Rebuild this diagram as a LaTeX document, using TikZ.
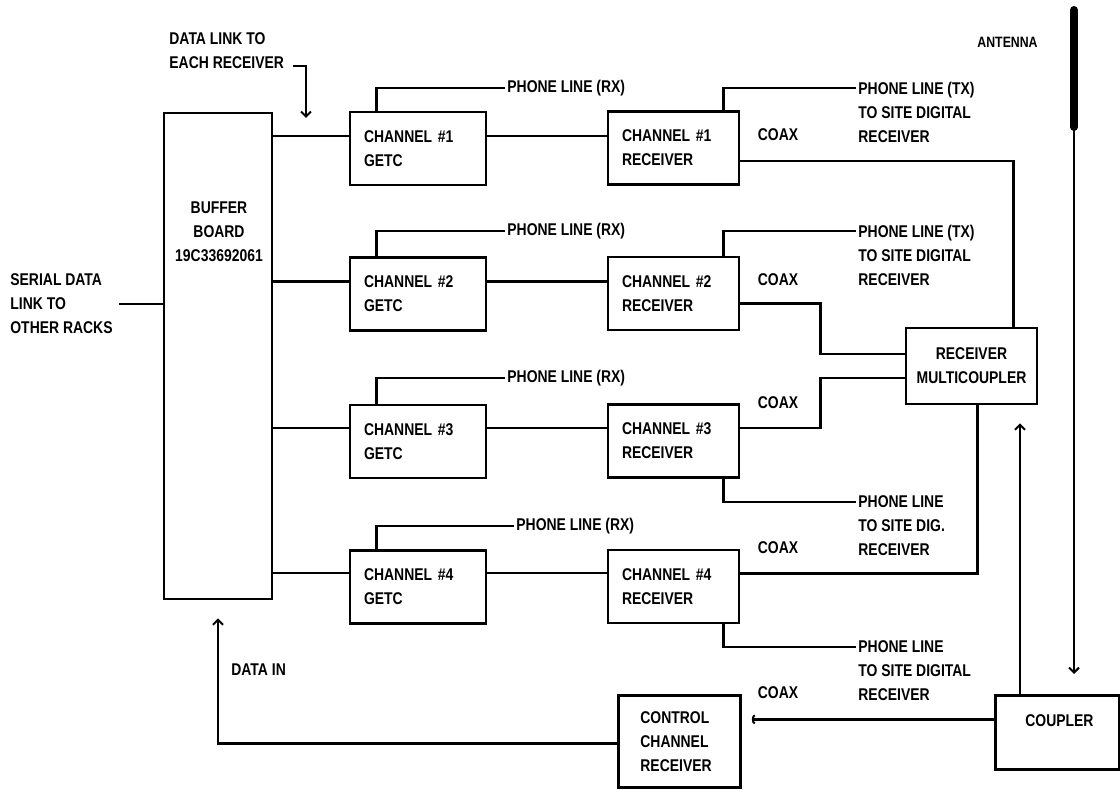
\documentclass[tikz,border=0pt]{standalone}
\usepackage{fontspec}
\newfontfamily\dotfont{Liberation Sans}[FakeStretch=0.82]
\usetikzlibrary{positioning, arrows.meta}

\begin{document}
\begin{tikzpicture}[
  x=0.5pt, y=-0.5pt,
  font=\dotfont\bfseries\fontsize{8.5}{12}\selectfont,
  wire/.style={line width=1.3pt},
  unit/.style={draw, line width=1.4pt, align=left, text width=#1,
    inner xsep=7pt, inner ysep=0pt, minimum height=36.5pt},
  unit/.default=54pt,
  hub/.style={draw, line width=1.4pt, align=center, minimum width=65.5pt,
    minimum height=38pt},
  tag/.style={align=left, inner sep=1pt},
  tip/.style={-{Straight Barb[length=2.5pt, width=5pt, line width=1pt]}}
]
\useasboundingbox (0,0) rectangle (1120,790);

% -------------------------
% BOXES
% -------------------------

\node[draw, line width=1.4pt, minimum width=54pt, minimum height=243pt] (buffer) at (218,356) {};
\node[align=center, inner sep=0pt] (buftext) at (219,232) {BUFFER\\BOARD\\19C33692061};

\node[unit] (g1) at (418,148.5) {CHANNEL \#1\\GETC};
\node[unit] (g2) at (418,294) {CHANNEL \#2\\GETC};
\node[unit] (g3) at (418,441.5) {CHANNEL \#3\\GETC};
\node[unit] (g4) at (418,587) {CHANNEL \#4\\GETC};

\node[unit=51.5pt] (r1) at (673.5,148) {CHANNEL \#1\\RECEIVER};
\node[unit=51.5pt] (r2) at (673.5,293.5) {CHANNEL \#2\\RECEIVER};
\node[unit=51.5pt] (r3) at (673.5,441) {CHANNEL \#3\\RECEIVER};
\node[unit=51.5pt] (r4) at (673.5,586.5) {CHANNEL \#4\\RECEIVER};

\node[hub] (mc) at (971.5,366) {RECEIVER\\MULTICOUPLER};

\node[unit=39pt, inner xsep=11pt, minimum height=46pt, anchor=north west] (cc) at (617,694)
  {CONTROL\\CHANNEL\\RECEIVER};
\node[unit=32pt, inner xsep=15pt, minimum height=37pt, anchor=north west] (cp) at (994,694)
  {COUPLER\\ \mbox{}};

% -------------------------
% LABELS
% -------------------------

\node[tag, anchor=west] (dltext) at (167,51) {DATA LINK TO\\EACH RECEIVER};
\node[tag, anchor=west] (serial) at (8,304) {SERIAL DATA\\LINK TO\\OTHER RACKS};
\node[tag, anchor=west] (datain) at (229,670) {DATA IN};
\node[tag, anchor=east, font=\dotfont\bfseries\fontsize{7.5}{9}\selectfont] (ant) at (1040,42) {ANTENNA};

\node[tag, anchor=west] (rx1) at (505,88) {PHONE LINE (RX)};
\node[tag, anchor=west] (rx2) at (505,231) {PHONE LINE (RX)};
\node[tag, anchor=west] (rx3) at (505,378) {PHONE LINE (RX)};
\node[tag, anchor=west] (rx4) at (514,526) {PHONE LINE (RX)};

\node[tag, anchor=west] (tx1) at (856,112) {PHONE LINE (TX)\\TO SITE DIGITAL\\RECEIVER};
\node[tag, anchor=west] (tx2) at (856,255) {PHONE LINE (TX)\\TO SITE DIGITAL\\RECEIVER};
\node[tag, anchor=west] (ph3) at (856,526) {PHONE LINE\\TO SITE DIG.\\RECEIVER};
\node[tag, anchor=west] (ph4) at (856,671) {PHONE LINE\\TO SITE DIGITAL\\RECEIVER};

\node[tag] (cx1) at (778,135) {COAX};
\node[tag] (cx2) at (778,280) {COAX};
\node[tag] (cx3) at (778,403) {COAX};
\node[tag] (cx4) at (778,548) {COAX};
\node[tag] (cx5) at (778,693) {COAX};

% -------------------------
% CONNECTORS
% -------------------------

\coordinate (g1in) at ([yshift=6.25pt]g1.west);
\coordinate (g2in) at ([yshift=6.25pt]g2.west);
\coordinate (g3in) at ([yshift=6.75pt]g3.west);
\coordinate (g4in) at ([yshift=7pt]g4.west);

% buffer to GETC
\draw[wire] (g1in -| buffer.east) -- (g1in);
\draw[wire] (g2in -| buffer.east) -- (g2in);
\draw[wire] (g3in -| buffer.east) -- (g3in);
\draw[wire] (g4in -| buffer.east) -- (g4in);

% GETC to receiver
\draw[wire] (g1in -| g1.east) -- (g1in -| r1.west);
\draw[wire] (g2in -| g2.east) -- (g2in -| r2.west);
\draw[wire] (g3in -| g3.east) -- (g3in -| r3.west);
\draw[wire] (g4in -| g4.east) -- (g4in -| r4.west);

% serial data
\draw[wire] ([xshift=2pt]serial.east) -- (serial.east -| buffer.west);

% data link arrow
\coordinate (dlend) at (293,66);
\coordinate (dl) at (g1in -| 306,0);
\draw[wire, tip, shorten >=9pt] (dlend) -| (dl);

% phone lines (RX)
\draw[wire] ([xshift=14pt]g1.north west) |- (rx1.west);
\draw[wire] ([xshift=14pt]g2.north west) |- (rx2.west);
\draw[wire] ([xshift=14pt]g3.north west) |- (rx3.west);
\draw[wire] ([xshift=14pt]g4.north west) |- (rx4.west);

% phone lines (TX)
\draw[wire] ([xshift=-8.5pt]r1.north east) |- ([yshift=12pt]tx1.west);
\draw[wire] ([xshift=-8.5pt]r2.north east) |- ([yshift=12pt]tx2.west);
\draw[wire] ([xshift=-8.5pt]r3.south east) |- ([yshift=12pt]ph3.west);
\draw[wire] ([xshift=-8.5pt]r4.south east) |- ([yshift=12pt]ph4.west);

% coax to multicoupler
\draw[wire] ([yshift=-6.5pt]r1.east) -| ([xshift=-12.5pt]mc.north east);
\draw[wire] ([yshift=-5pt]r2.east) -- ++(80,0) |- ([yshift=6pt]mc.west);
\draw[wire] ([yshift=6.5pt]r3.east) -- ++(80,0) |- ([yshift=-6pt]mc.west);
\draw[wire] ([yshift=6.5pt]r4.east) -| ([xshift=3pt]mc.south);

% antenna
\coordinate (anttop) at (1074,10);
\coordinate (antbase) at (1074,127);
\draw[line width=4pt, line cap=round] (anttop) -- (antbase);
\draw[line width=1pt, tip, shorten >=10pt] (antbase) -- (antbase |- cp.north);

% coupler
\coordinate (cpup) at ([xshift=13pt]cp.north west);
\draw[wire, tip, shorten >=9pt] (cpup) -- (cpup |- mc.south);
\coordinate (cpout) at ([yshift=6.5pt]cp.west);
\draw[wire, -{Arc Barb[length=1.5pt, width=5pt, line width=1pt]}, shorten >=5pt]
  (cpout) -- (cpout -| cc.east);

% data in
\draw[wire, tip, shorten >=9pt] ([yshift=-1pt]cc.west) -| (buffer.south);

\end{tikzpicture}
\end{document}
